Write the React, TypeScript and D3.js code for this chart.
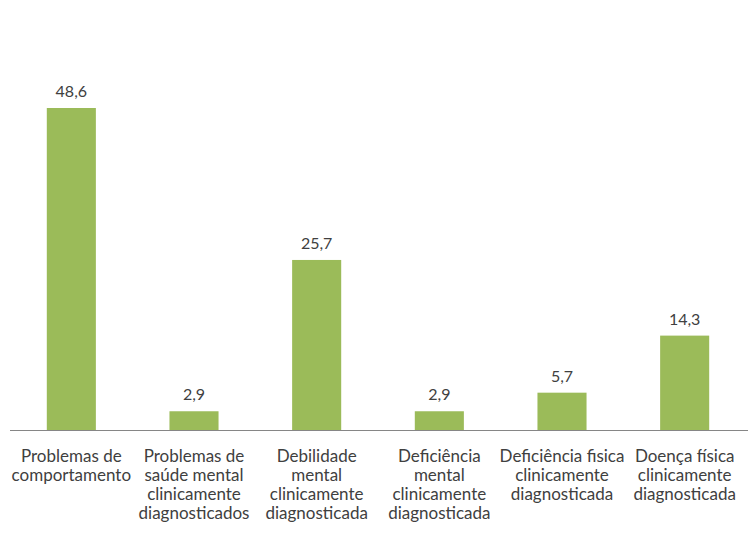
import React from "react";
import * as d3 from "d3";

const categories: string[][] = [
  ["Problemas de", "comportamento"],
  ["Problemas de", "saúde mental", "clinicamente", "diagnosticados"],
  ["Debilidade", "mental", "clinicamente", "diagnosticada"],
  ["Deficiência", "mental", "clinicamente", "diagnosticada"],
  ["Deficiência fisica", "clinicamente", "diagnosticada"],
  ["Doença física", "clinicamente", "diagnosticada"],
];
const values: number[] = [48.6, 2.9, 25.7, 2.9, 5.7, 14.3];
const valueLabels: string[] = ["48,6", "2,9", "25,7", "2,9", "5,7", "14,3"];

const W = 748;
const H = 534;
const left = 10;
const right = 746;
const baseY = 430.5;
const topY = 108;

export default function App() {
  const x = d3
    .scaleBand<number>()
    .domain(values.map((_, i) => i))
    .range([left, right])
    .paddingInner(0.6)
    .paddingOuter(0.3);
  const y = d3.scaleLinear().domain([0, 48.6]).range([baseY, topY]);
  const font = "Lato, Carlito, Calibri, sans-serif";
  return (
    <svg
      width={W}
      height={H}
      style={{ position: "absolute", left: 0, top: 0, background: "#fff" }}
    >
      {values.map((v, i) => (
        <rect
          key={i}
          x={x(i)!}
          y={y(v)}
          width={x.bandwidth()}
          height={baseY - y(v)}
          fill="#9BBB59"
        />
      ))}
      <line x1={left} x2={W} y1={baseY} y2={baseY} stroke="#868686" strokeWidth={1} />
      {values.map((v, i) => (
        <text
          key={"v" + i}
          x={x(i)! + x.bandwidth() / 2}
          y={y(v) - 11}
          textAnchor="middle"
          fontFamily={font}
          fontSize={16}
          fill="#404040"
        >
          {valueLabels[i]}
        </text>
      ))}
      {categories.map((lines, i) => (
        <text
          key={"c" + i}
          textAnchor="middle"
          fontFamily={font}
          fontSize={17}
          fill="#404040"
        >
          {lines.map((l, j) => (
            <tspan key={j} x={x(i)! + x.bandwidth() / 2} y={461.5 + j * 19.2}>
              {l}
            </tspan>
          ))}
        </text>
      ))}
    </svg>
  );
}
